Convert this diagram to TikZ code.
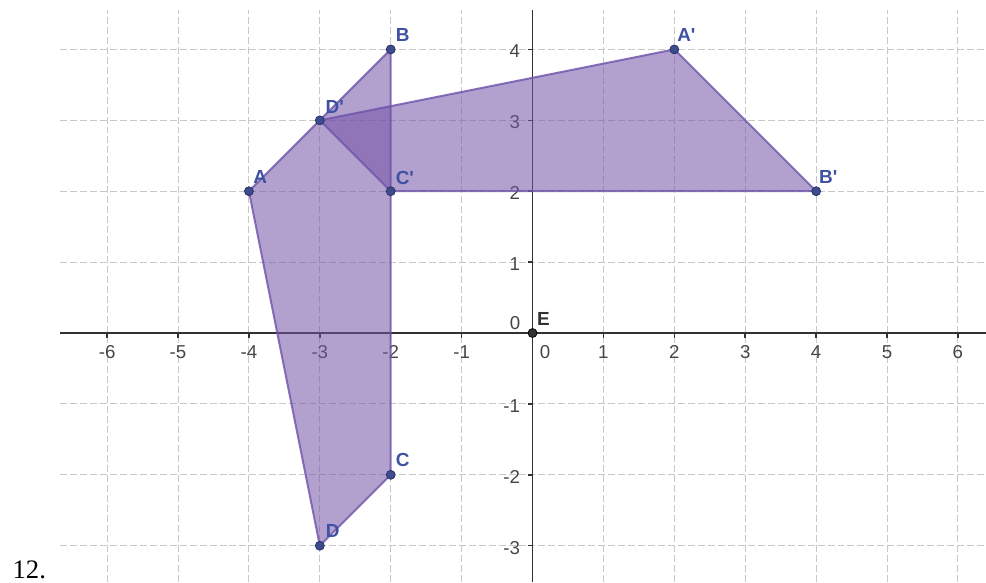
\documentclass[tikz,border=0pt]{standalone}
\usepackage{fontspec}
\setmainfont{Liberation Sans}
\newfontfamily\timesf{Liberation Serif}
\definecolor{polyfill}{RGB}{115,82,166}
\definecolor{polyedge}{RGB}{110,84,170}
\definecolor{ptblue}{RGB}{62,76,142}
\definecolor{ptdark}{RGB}{40,48,100}
\definecolor{lblblue}{RGB}{63,81,163}
\definecolor{gridgray}{RGB}{200,200,200}
\definecolor{axisgray}{RGB}{50,50,50}
\definecolor{ticktext}{RGB}{70,70,70}
\begin{document}
\begin{tikzpicture}[x=1cm,y=1cm,
  gridln/.style={draw=gridgray, dash pattern=on 2.8pt off 1.2pt, line width=0.4pt},
  axisln/.style={draw=axisgray, line width=0.6pt},
  poly/.style={fill=polyfill, fill opacity=0.55, draw=polyedge, draw opacity=0.8, line width=0.8pt, line join=round},
  pt/.style={circle, fill=ptblue, draw=ptdark, line width=0.3pt, inner sep=0pt, minimum size=3.6pt},
  ptE/.style={circle, fill=axisgray, draw=black, line width=0.3pt, inner sep=0pt, minimum size=3.6pt},
  ptlbl/.style={text=lblblue, font=\fontsize{7.6}{9}\selectfont\bfseries, inner sep=0pt},
  Elbl/.style={text=axisgray, font=\fontsize{7.6}{9}\selectfont\bfseries, inner sep=0pt},
  ticklbl/.style={text=ticktext, font=\fontsize{7.5}{9}\selectfont, inner sep=0pt}
]
\useasboundingbox (-7.511,-3.512) rectangle (6.396,4.697);
% grid
\foreach \x in {-6,...,-1,1,2,...,6} \draw[gridln] (\x,-3.512) -- (\x,4.556);
\foreach \y in {-3,-2,-1,1,2,3,4} \draw[gridln] (-6.664,\y) -- (6.396,\y);
% axes
\draw[axisln] (-6.664,0) -- (6.396,0);
\draw[axisln] (0,-3.512) -- (0,4.556);
\foreach \x in {-6,...,-1,1,2,...,6} \draw[axisln] (\x,0) -- (\x,-0.07);
\foreach \y in {-3,-2,-1,1,2,3,4} \draw[axisln] (0,\y) -- (-0.07,\y);
% tick labels
\foreach \x [count=\i] in {-6,-5,-4,-3,-2,-1,1,2,3,4,5,6}
  \node[ticklbl] (tx\i) at (\x,-0.268) {\x};
\foreach \y [count=\i] in {-3,-2,-1,1,2,3,4}
  \node[ticklbl, anchor=east] (ty\i) at (-0.17,\y-0.03) {\y};
\node[ticklbl] (tx0) at (0.176,-0.268) {0};
\node[ticklbl] (ty0) at (-0.247,0.141) {0};
% coordinates
\coordinate (pA) at (-4,2);
\coordinate (pB) at (-2,4);
\coordinate (pC) at (-2,-2);
\coordinate (pD) at (-3,-3);
\coordinate (pA1) at (2,4);
\coordinate (pB1) at (4,2);
\coordinate (pC1) at (-2,2);
\coordinate (pD1) at (-3,3);
% polygons
\path[poly] (pA) -- (pB) -- (pC) -- (pD) -- cycle;
\path[poly] (pA1) -- (pB1) -- (pC1) -- (pD1) -- cycle;
% points
\node[pt] (A) at (pA) {};
\node[pt] (B) at (pB) {};
\node[pt] (C) at (pC) {};
\node[pt] (D) at (pD) {};
\node[pt] (A1) at (pA1) {};
\node[pt] (B1) at (pB1) {};
\node[pt] (C1) at (pC1) {};
\node[pt] (D1) at (pD1) {};
\node[ptE] (E) at (0,0) {};
% labels
\node[ptlbl] (lA) at (-3.84,2.2) {A};
\node[ptlbl] (lB) at (-1.83,4.2) {B};
\node[ptlbl] (lC) at (-1.83,-1.79) {C};
\node[ptlbl] (lD) at (-2.82,-2.79) {D};
\node[ptlbl] (lA1) at (2.17,4.2) {A\textquotesingle};
\node[ptlbl] (lB1) at (4.17,2.2) {B\textquotesingle};
\node[ptlbl] (lC1) at (-1.8,2.19) {C\textquotesingle};
\node[ptlbl] (lD1) at (-2.79,3.19) {D\textquotesingle};
\node[Elbl] (lE) at (0.155,0.197) {E};
% problem number
\node[anchor=base west, inner sep=0pt, font=\timesf\fontsize{10.7}{12}\selectfont] (num) at (-7.34,-3.456) {12.};
\end{tikzpicture}
\end{document}
